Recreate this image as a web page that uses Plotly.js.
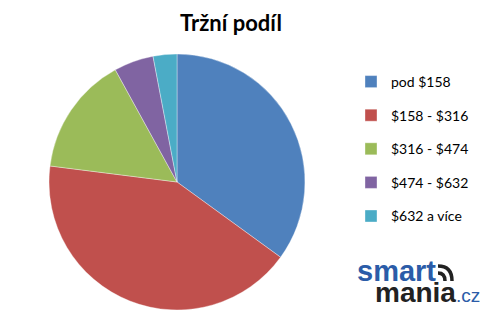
<!DOCTYPE html>
<html>
<head>
<meta charset="utf-8">
<script src="https://cdn.plot.ly/plotly-3.0.1.min.js"></script>
<style>html,body{margin:0;padding:0;background:#fff;}#chart{width:497px;height:323px;}</style>
</head>
<body>
<div id="chart"></div>
<script>
var categories = ["pod $158", "$158 - $316", "$316 - $474", "$474 - $632", "$632 a více"];
var shares = [35, 42, 15, 5, 3];
var sliceColors = ["#4F81BD", "#C0504D", "#9BBB59", "#8064A2", "#4BACC6"];
var chartTitle = "Tržní podíl";

var W = 497, H = 323;
function px(x) { return x / W; }
function py(y) { return 1 - y / H; }

var trace = {
  type: "pie",
  labels: categories,
  values: shares,
  sort: false,
  direction: "clockwise",
  rotation: 0,
  textinfo: "none",
  hoverinfo: "none",
  marker: { colors: sliceColors, line: { color: "rgba(255,255,255,0.6)", width: 0.6 } },
  domain: { x: [px(49), px(305)], y: [py(310), py(54)] }
};

// invisible helper entry so that each slice becomes its own legend group (for row spacing)
var spacer = {
  type: "scatter", x: [null], y: [null], mode: "markers",
  marker: { color: "rgba(0,0,0,0)" }, name: " ", legendgroup: "zz",
  showlegend: true, hoverinfo: "none"
};

var layout = {
  width: W, height: H,
  margin: { l: 0, r: 0, t: 0, b: 0 },
  paper_bgcolor: "#fff",
  plot_bgcolor: "rgba(0,0,0,0)",
  xaxis: { visible: false },
  yaxis: { visible: false },
  font: { family: "Lato, 'Liberation Sans', sans-serif", color: "#000" },
  title: {
    text: "<b>" + chartTitle + "</b>",
    font: { family: "Lato, 'Liberation Sans', sans-serif", size: 22, color: "#000" },
    x: px(231), xanchor: "center", y: py(23), yanchor: "middle"
  },
  showlegend: true,
  legend: {
    x: px(351), xanchor: "left", y: py(66), yanchor: "top",
    traceorder: "grouped", tracegroupgap: 12.4,
    font: { family: "Lato, 'Liberation Sans', sans-serif", size: 14, color: "#000" },
    bgcolor: "rgba(0,0,0,0)"
  },
  annotations: [
    { xref: "paper", yref: "paper", x: px(355), y: py(271), xanchor: "left", yanchor: "middle", showarrow: false,
      text: "<b>smart</b>", font: { family: "'Liberation Sans', sans-serif", size: 29, color: "#2B5CA8" } },
    { xref: "paper", yref: "paper", x: px(373), y: py(292), xanchor: "left", yanchor: "middle", showarrow: false,
      text: "<b>mania</b><span style='font-size:19px;color:#2B5CA8'>.cz</span>",
      font: { family: "'Liberation Sans', sans-serif", size: 28, color: "#222222" } }
  ],
  shapes: [
    { type: "path", xref: "paper", yref: "paper",
      path: "M" + px(438) + "," + py(273) + " Q" + px(445) + "," + py(273) + " " + px(445) + "," + py(281),
      line: { color: "#222", width: 3.5 } },
    { type: "path", xref: "paper", yref: "paper",
      path: "M" + px(438) + "," + py(266) + " Q" + px(452) + "," + py(266) + " " + px(452) + "," + py(281),
      line: { color: "#222", width: 3.5 } }
  ]
};

Plotly.newPlot("chart", [trace, spacer], layout, { staticPlot: true, displayModeBar: false });
</script>
</body>
</html>
